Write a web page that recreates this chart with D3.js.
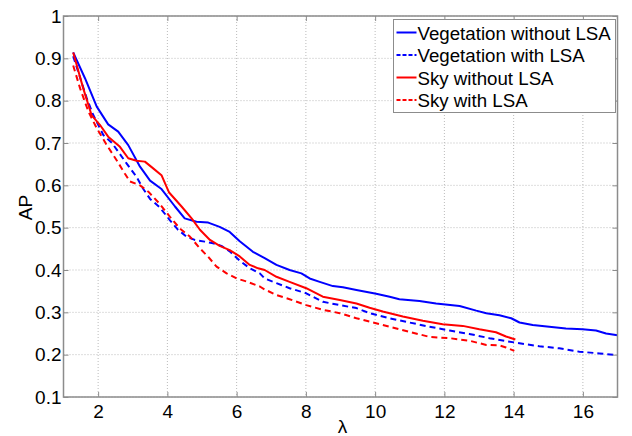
<!DOCTYPE html>
<html>
<head>
<meta charset="utf-8">
<script src="https://cdn.jsdelivr.net/npm/d3@7"></script>
<style>
    body { margin: 0; background: #fff; }
    svg { display: block; }
    svg text { font-family: Arial, "Liberation Sans", sans-serif; }
    .grid line { stroke: #bbb; stroke-dasharray: 1,2; }
</style>
</head>
<body>
<div id="chart"></div>
<script>
// values (lambda -> AP)
const vegNoLsaX = [1.28, 1.62, 1.96, 2.29, 2.58, 2.87, 3.21, 3.5, 3.82, 4.22, 4.5, 4.84, 5.18, 5.51, 5.8, 6.09, 6.47, 6.81, 7.15, 7.53, 7.87, 8.11, 8.4, 8.78, 9.07, 9.46, 9.84, 10.03, 10.42, 10.7, 11.28, 11.76, 12.44, 12.92, 13.21, 13.59, 13.93, 14.17, 14.55, 15.03, 15.51, 15.99, 16.38, 16.67, 17.0];
const vegNoLsaY = [0.914, 0.853, 0.786, 0.744, 0.727, 0.695, 0.644, 0.611, 0.592, 0.55, 0.522, 0.514, 0.512, 0.502, 0.49, 0.468, 0.443, 0.428, 0.412, 0.4, 0.392, 0.38, 0.372, 0.362, 0.359, 0.353, 0.347, 0.344, 0.337, 0.331, 0.327, 0.321, 0.315, 0.304, 0.298, 0.293, 0.286, 0.276, 0.27, 0.266, 0.262, 0.26, 0.257, 0.25, 0.246];

const vegLsaX = [1.28, 1.67, 1.86, 2.15, 2.4, 2.82, 3.11, 3.3, 3.5, 3.78, 4.07, 4.31, 4.55, 4.79, 5.08, 5.32, 5.56, 5.8, 6.09, 6.38, 6.67, 6.81, 7.15, 7.53, 8.01, 8.49, 8.98, 9.46, 9.84, 10.42, 10.99, 11.57, 12.15, 12.72, 13.3, 13.78, 14.17, 14.74, 15.32, 15.9, 16.48, 17.0];
const vegLsaY = [0.905, 0.806, 0.766, 0.719, 0.7, 0.652, 0.62, 0.592, 0.568, 0.548, 0.518, 0.495, 0.479, 0.471, 0.467, 0.463, 0.457, 0.444, 0.422, 0.404, 0.392, 0.38, 0.369, 0.357, 0.345, 0.325, 0.317, 0.31, 0.298, 0.286, 0.276, 0.266, 0.257, 0.249, 0.239, 0.232, 0.227, 0.22, 0.215, 0.207, 0.203, 0.199];

const skyNoLsaX = [1.28, 1.57, 1.81, 2.05, 2.29, 2.63, 2.87, 3.11, 3.35, 3.59, 3.83, 4.05, 4.41, 4.7, 4.94, 5.23, 5.51, 5.8, 6.09, 6.38, 6.62, 6.81, 7.15, 7.53, 8.01, 8.49, 8.98, 9.46, 9.84, 10.22, 10.8, 11.38, 11.95, 12.53, 13.01, 13.49, 13.78, 14.05];
const skyNoLsaY = [0.914, 0.829, 0.766, 0.743, 0.715, 0.691, 0.664, 0.658, 0.656, 0.64, 0.624, 0.583, 0.55, 0.522, 0.495, 0.471, 0.457, 0.447, 0.432, 0.412, 0.404, 0.4, 0.384, 0.372, 0.357, 0.337, 0.329, 0.321, 0.311, 0.302, 0.29, 0.28, 0.272, 0.268, 0.26, 0.253, 0.243, 0.236];

const skyLsaX = [1.28, 1.48, 1.72, 1.96, 2.25, 2.53, 2.77, 2.92, 3.21, 3.45, 3.78, 4.07, 4.36, 4.65, 4.94, 5.18, 5.42, 5.71, 6.0, 6.28, 6.67, 6.81, 7.15, 7.53, 8.01, 8.49, 8.98, 9.46, 9.84, 10.42, 10.99, 11.57, 12.15, 12.72, 13.21, 13.59, 13.78, 14.02];
const skyLsaY = [0.883, 0.829, 0.774, 0.735, 0.695, 0.66, 0.628, 0.609, 0.6, 0.585, 0.556, 0.526, 0.498, 0.479, 0.451, 0.431, 0.408, 0.392, 0.38, 0.373, 0.361, 0.354, 0.341, 0.331, 0.317, 0.306, 0.298, 0.286, 0.278, 0.266, 0.254, 0.242, 0.239, 0.233, 0.223, 0.222, 0.217, 0.209];

const seriesNames = ["Vegetation without LSA", "Vegetation with LSA", "Sky without LSA", "Sky with LSA"];
const xTicks = [2, 4, 6, 8, 10, 12, 14, 16];
const yTicks = [0.1, 0.2, 0.3, 0.4, 0.5, 0.6, 0.7, 0.8, 0.9, 1];

const series = [
    { name: seriesNames[0], x: vegNoLsaX, y: vegNoLsaY, color: "#0000ff", dash: null },
    { name: seriesNames[1], x: vegLsaX, y: vegLsaY, color: "#0000ff", dash: "6,4" },
    { name: seriesNames[2], x: skyNoLsaX, y: skyNoLsaY, color: "#ff0000", dash: null },
    { name: seriesNames[3], x: skyLsaX, y: skyLsaY, color: "#ff0000", dash: "6,4" }
];

const W = 632, H = 436;
const margin = { top: 16, right: 14.5, bottom: 39, left: 63.5 },
      width = W - margin.left - margin.right,
      height = H - margin.top - margin.bottom;

const svg = d3.select("#chart").append("svg")
    .attr("width", W)
    .attr("height", H);

const g = svg.append("g")
    .attr("transform", "translate(" + margin.left + "," + margin.top + ")");

const x = d3.scaleLinear().domain([1, 17]).range([0, width]);
const y = d3.scaleLinear().domain([0.1, 1]).range([height, 0]);

// dotted grid
g.append("g").attr("class", "grid")
    .selectAll("line").data(xTicks).enter().append("line")
    .attr("x1", d => x(d)).attr("x2", d => x(d))
    .attr("y1", 0).attr("y2", height);
g.append("g").attr("class", "grid")
    .selectAll("line").data(yTicks).enter().append("line")
    .attr("x1", 0).attr("x2", width)
    .attr("y1", d => y(d)).attr("y2", d => y(d));

// curves
const line = d3.line()
    .x(d => x(d[0]))
    .y(d => y(d[1]));

series.forEach(s => {
    g.append("path")
        .datum(d3.zip(s.x, s.y))
        .attr("fill", "none")
        .attr("stroke", s.color)
        .attr("stroke-width", 2)
        .attr("stroke-dasharray", s.dash)
        .attr("stroke-linejoin", "round")
        .attr("d", line);
});

// axes, ticks pointing inward, on all four sides like matlab
const axisColor = "#8c8c8c";
function styleAxis(sel) {
    sel.attr("font-family", null).attr("font-size", null);
    sel.select(".domain").remove();
    sel.selectAll(".tick line").attr("stroke", axisColor);
    sel.selectAll(".tick text").attr("fill", "#000").style("font-size", "19px");
}

g.append("g")
    .attr("transform", "translate(0," + height + ")")
    .call(d3.axisBottom(x).tickValues(xTicks).tickSizeInner(-5).tickPadding(8))
    .call(styleAxis);
g.append("g")
    .call(d3.axisTop(x).tickValues(xTicks).tickSizeInner(-5).tickFormat(""))
    .call(styleAxis);
g.append("g")
    .call(d3.axisLeft(y).tickValues(yTicks).tickSizeInner(-5).tickPadding(2).tickFormat(d3.format("")))
    .call(styleAxis);
g.append("g")
    .attr("transform", "translate(" + width + ",0)")
    .call(d3.axisRight(y).tickValues(yTicks).tickSizeInner(-5).tickFormat(""))
    .call(styleAxis);

g.append("rect")
    .attr("width", width).attr("height", height)
    .attr("fill", "none")
    .attr("stroke", axisColor)
    .attr("stroke-width", 1.5);

// axis labels
svg.append("text")
    .attr("x", margin.left + x(9) + 2)
    .attr("y", 433)
    .attr("text-anchor", "middle")
    .style("font-size", "19px")
    .text("λ");

svg.append("text")
    .attr("transform", "translate(31.5," + (margin.top + height / 2 + 1) + ") rotate(-90)")
    .attr("text-anchor", "middle")
    .style("font-size", "19px")
    .text("AP");

// legend
const legend = svg.append("g").attr("transform", "translate(393.5,19.5)");
legend.append("rect")
    .attr("width", 222).attr("height", 93)
    .attr("fill", "#fff")
    .attr("stroke", axisColor)
    .attr("stroke-width", 1);

series.forEach((s, i) => {
    const ly = 13 + i * 22.5;
    legend.append("line")
        .attr("x1", 3).attr("x2", 23)
        .attr("y1", ly).attr("y2", ly)
        .attr("stroke", s.color)
        .attr("stroke-width", 2)
        .attr("stroke-dasharray", s.dash ? "4,2" : null);
    legend.append("text")
        .attr("x", 24)
        .attr("y", ly + 7)
        .style("font-size", "18.7px")
        .text(s.name);
});
</script>
</body>
</html>
